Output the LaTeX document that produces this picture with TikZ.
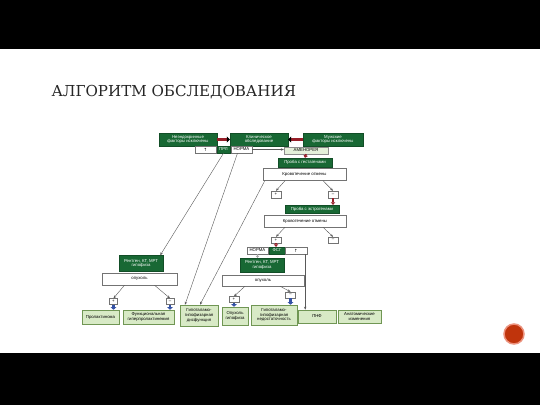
\documentclass[tikz,border=0pt]{standalone}
\usepackage{fontspec}
\setmainfont{Liberation Sans}
\newfontfamily\titlefont{DejaVu Serif}
\newfontfamily\arrfont{DejaVu Sans}
\usetikzlibrary{arrows.meta, calc}

\definecolor{dkgreen}{RGB}{24,104,52}
\definecolor{ltgreen}{RGB}{216,234,198}
\definecolor{ltborder}{RGB}{112,150,84}
\definecolor{amgreen}{RGB}{228,240,218}
\definecolor{dkred}{RGB}{150,30,40}
\definecolor{dkblue}{RGB}{52,82,165}
\definecolor{btnred}{RGB}{192,52,12}
\definecolor{btnring}{RGB}{236,146,126}

\newcommand\diagfont{\fontsize{4.3}{4.8}\selectfont}

\begin{document}
\begin{tikzpicture}[x=1pt,y=-1pt]

\tikzset{
  % boxes
  base/.style={inner sep=0pt, align=center, font=\diagfont},
  sz/.style 2 args={minimum width=#1, minimum height=#2},
  dkbox/.style={base, fill=dkgreen, draw=dkgreen!75!black, text=white, line width=0.4pt},
  whbox/.style={base, fill=white, draw=black!55, line width=0.4pt},
  ambox/.style={base, fill=amgreen, draw=black!45, line width=0.4pt},
  ltbox/.style={base, fill=ltgreen, draw=ltborder, line width=0.6pt},
  % connectors
  thinarr/.style={draw=black!65, line width=0.4pt, -{Stealth[length=3pt,width=2.4pt]}},
  grayarr/.style={draw=black!35, line width=1pt, -{Triangle[length=2pt,width=3.5pt]}},
  redarr/.style={draw=dkred, line width=1.8pt, -{Triangle[length=2.5pt,width=4.5pt]}},
  redlink/.style={draw=dkred, line width=2.2pt, -{Triangle[black, length=3pt,width=6pt]}},
  bluearr/.style={draw=dkblue, line width=2.4pt, -{Triangle[length=2.5pt,width=5.5pt]}},
}

\useasboundingbox (0,0) rectangle (540,405);
\fill[white] (0,0) rectangle (540,405);
\fill[black] (0,0) rectangle (540,49);
\fill[black] (0,353) rectangle (540,405);

\node[anchor=base west, font=\titlefont\fontsize{15.1}{15.1}\selectfont, text=black!85] (title) at (48,96) {АЛГОРИТМ ОБСЛЕДОВАНИЯ};

% top row
\node[dkbox, sz={58}{13}] (nef) at (188,139.5) {Неэндокринные\\факторы исключены};
\node[dkbox, sz={58}{13}] (klin) at (259,139.5) {Клиническое\\обследование};
\node[dkbox, sz={60}{13}] (muzh) at (333,139.5) {Мужские\\факторы исключены};

\node[whbox, sz={21}{7}] (up1) at (205.5,149.5) {\arrfont↑};
\node[dkbox, sz={13}{7}] (prl) at (223.5,149.5) {ПРЛ};
\node[whbox, sz={21}{7}] (norm1) at (241.5,149.5) {НОРМА};
\node[ambox, sz={44}{7}] (amen) at (306,150.5) {АМЕНОРЕЯ};

% tests
\node[dkbox, sz={54}{9}] (gest) at (305,162.5) {Проба с гестагенами};
\node[whbox, sz={83}{12}] (krov1) at (304.5,174.5) {Кровотечение отмены};
\node[whbox, sz={10}{7}] (pl1) at (276,194.5) {+};
\node[whbox, sz={10}{7}] (mi1) at (333,194.5) {–};
\node[dkbox, sz={54}{8}] (estr) at (312,209) {Проба с эстрогенами};
\node[whbox, sz={82}{12}] (krov2) at (305,221) {Кровотечение отмены};
\node[whbox, sz={10}{6}] (pl2) at (276,240) {+};
\node[whbox, sz={10}{6}] (mi2) at (333,240) {–};

\node[whbox, sz={21}{7}] (norm2) at (257.5,250.5) {НОРМА};
\node[dkbox, sz={16}{7}] (fsg) at (277,250.5) {ФСГ};
\node[whbox, sz={22}{7}] (up2) at (296,250.5) {\arrfont↑};

% imaging
\node[dkbox, sz={44}{14}] (rent2) at (262,265) {Рентген, КТ, МРТ\\гипофиза};
\node[whbox, sz={82}{11}] (opx2) at (263,280.5) {опухоль};
\node[whbox, sz={10}{6}] (pl3) at (234,299.5) {+};
\node[whbox, sz={10}{6}] (mi3) at (290.5,295) {–};

\node[dkbox, sz={44}{16}] (rent1) at (141,263.5) {Рентген, КТ, МРТ\\гипофиза};
\node[whbox, sz={75}{12}] (opx1) at (139.5,279) {опухоль};
\node[whbox, sz={8}{6}] (pl4) at (113.5,301.5) {+};
\node[whbox, sz={8}{6}] (mi4) at (170,301.5) {–};

% diagnoses
\node[ltbox, sz={37}{14}] (prol) at (100.5,317) {Пролактинома};
\node[ltbox, sz={51}{14}] (func) at (148.5,317) {Функциональная\\гиперпролактинемия};
\node[ltbox, sz={38}{21}] (disf) at (199,315.5) {Гипоталамо-\\гипофизарная\\дисфункция};
\node[ltbox, sz={26}{18}] (opgip) at (235,316) {Опухоль\\гипофиза};
\node[ltbox, sz={46}{20}] (nedost) at (274,315) {Гипоталамо-\\гипофизарная\\недостаточность};
\node[ltbox, sz={38}{13}] (pnf) at (317,316.5) {ПНФ};
\node[ltbox, sz={43}{13}] (anat) at (359.5,316.5) {Анатомические\\изменения};

\draw[redlink] (nef.east) -- (klin.west);
\draw[redlink] (muzh.west) -- (klin.east);
\draw[thinarr] (norm1.east) -- (norm1.east -| amen.west);
\draw[redarr] (amen.south) -- (gest.north);

\draw[thinarr] ([xshift=-19.5pt]krov1.south) -- (pl1.north);
\draw[thinarr] ([xshift=18.5pt]krov1.south) -- (mi1.north);
\draw[redarr] (mi1.south) -- (mi1.south |- estr.north);
\draw[thinarr] ([xshift=-20pt]krov2.south) -- (pl2.north);
\draw[thinarr] ([xshift=18pt]krov2.south) -- (mi2.north);
\draw[redarr] (pl2.south) -- (pl2.south |- fsg.north);

\draw[grayarr] (norm2.south) -- (norm2.south |- rent2.north);
\draw[thinarr] ([xshift=-2pt]up2.south east) -- ([xshift=-2pt]up2.south east |- pnf.north);

\draw[thinarr] ([xshift=-18pt]opx2.south) -- (pl3.north);
\draw[thinarr] ([xshift=17pt]opx2.south) -- (mi3.north);
\draw[bluearr] (pl3.south) -- (pl3.south |- opgip.north);
\draw[bluearr] (mi3.south) -- (mi3.south |- nedost.north);

\draw[thinarr] ([xshift=-15pt]opx1.south) -- (pl4.north);
\draw[thinarr] ([xshift=15pt]opx1.south) -- (mi4.north);
\draw[bluearr] (pl4.south) -- (pl4.south |- prol.north);
\draw[bluearr] (mi4.south) -- (mi4.south |- func.north);

% long lines
\draw[thinarr] (prl.south) -- ([xshift=-3pt]rent1.north east);
\draw[thinarr] ([xshift=-4pt]norm1.south) -- ([xshift=-14pt]disf.north);
\draw[thinarr] ([xshift=2pt]krov1.south west) -- ([xshift=1pt]disf.north);

\draw[draw=btnring, line width=1.5pt, fill=btnred] (514,334) circle (10pt);

\end{tikzpicture}
\end{document}
